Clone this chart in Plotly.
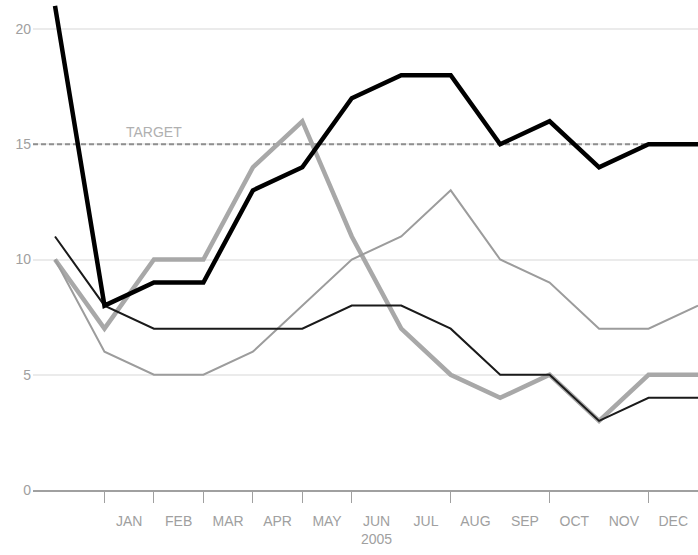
import plotly.graph_objects as go

# Period boundaries: 0 = start of JAN, 1..12 = end of each month (13 points + lead-in)
periods = list(range(14))
months = ["JAN", "FEB", "MAR", "APR", "MAY", "JUN", "JUL", "AUG", "SEP", "OCT", "NOV", "DEC"]
year_label = "2005"
boundary_ticks = [1, 2, 3, 4, 5, 6, 8, 10, 12, 13]
y_ticks = [0, 5, 10, 15, 20]
target = 15

heavy_black = [21, 8, 9, 9, 13, 14, 17, 18, 18, 15, 16, 14, 15, 15]
heavy_grey = [10, 7, 10, 10, 14, 16, 11, 7, 5, 4, 5, 3, 5, 5]
light_black = [11, 8, 7, 7, 7, 7, 8, 8, 7, 5, 5, 3, 4, 4]
light_grey = [10, 6, 5, 5, 6, 8, 10, 11, 13, 10, 9, 7, 7, 8]

FONT = "Liberation Sans, Arial, sans-serif"
LABEL_GREY = "#a0a0a0"
x_range = [-0.445, 13.0]

fig = go.Figure()

# Dashed target line, drawn first so the series sit on top of it
fig.add_trace(go.Scatter(
    x=x_range, y=[target, target], mode="lines",
    line=dict(color="#8f8f8f", width=2, dash="5px,3px"),
    showlegend=False, hoverinfo="skip",
))

series = [
    (heavy_grey, "#a8a8a8", 4.5),
    (light_grey, "#9c9c9c", 2),
    (light_black, "#1a1a1a", 2),
    (heavy_black, "#000000", 4.5),
]
for values, color, width in series:
    fig.add_trace(go.Scatter(
        x=periods, y=values, mode="lines",
        line=dict(color=color, width=width),
        showlegend=False, hoverinfo="skip",
    ))

fig.add_annotation(x=2, y=target, text="TARGET", showarrow=False,
                   yanchor="bottom", yshift=2,
                   font=dict(family=FONT, size=14, color="#b0b0b0"))

month_text = [m if m != "JUN" else m + "<br>" + year_label for m in months]

fig.update_layout(
    width=698, height=555,
    margin=dict(l=33, r=0, t=0, b=65),
    paper_bgcolor="white", plot_bgcolor="white",
    font=dict(family=FONT, size=14, color=LABEL_GREY),
    xaxis=dict(
        range=x_range,
        tickvals=[i + 0.5 for i in range(1, 13)],
        ticktext=month_text,
        ticks="outside", ticklen=17, tickcolor="rgba(0,0,0,0)",
        showgrid=False, zeroline=False,
        showline=True, linecolor="#a0a0a0", linewidth=2,
        tickfont=dict(family=FONT, size=14, color=LABEL_GREY),
    ),
    xaxis2=dict(
        range=x_range, overlaying="x", side="bottom", anchor="y",
        tickvals=boundary_ticks, ticks="outside", ticklen=12,
        tickcolor="#a0a0a0", tickwidth=1,
        showticklabels=False, showgrid=False, zeroline=False, showline=False,
    ),
    yaxis=dict(
        range=[0, 21.26],
        tickvals=y_ticks,
        showgrid=True, gridcolor="#ebebeb", gridwidth=2,
        zeroline=False, showline=False, ticks="",
        ticklabelstandoff=1,
        tickfont=dict(family=FONT, size=14, color=LABEL_GREY),
    ),
)

# Invisible trace so the boundary tick axis is rendered
fig.add_trace(go.Scatter(x=[0], y=[0], xaxis="x2", mode="markers",
                         marker=dict(opacity=0), showlegend=False, hoverinfo="skip"))

fig.write_html("out.html")
